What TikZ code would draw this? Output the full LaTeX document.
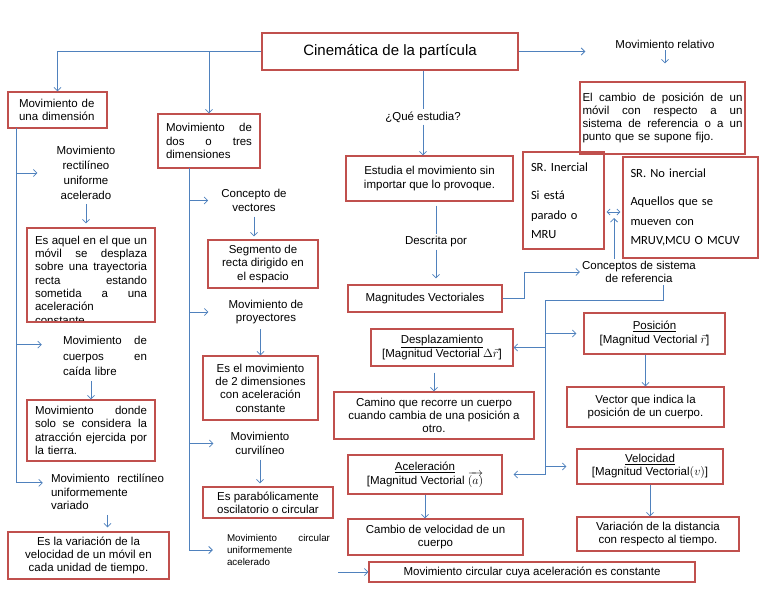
\documentclass[tikz,border=0pt]{standalone}
\usepackage{fontspec}
\setmainfont{Liberation Sans}
\newfontfamily\calibri{Carlito}
\usetikzlibrary{arrows.meta}
\definecolor{rojo}{RGB}{192,80,77}
\definecolor{azul}{RGB}{79,129,189}
\newcommand{\linj}[2]{\leavevmode\hbox to #1{#2}}

\begin{document}
\begin{tikzpicture}[x=1pt,y=-1pt,
    caja/.style={draw=rojo, line width=1.2pt, inner sep=2pt, font=\fontsize{11.5}{13.3}\selectfont},
    texto/.style={inner sep=2pt, font=\fontsize{11.5}{13.3}\selectfont},
    linea/.style={draw=azul, line width=0.8pt},
    flecha/.style={linea, -{Straight Barb[length=3.5pt,width=7pt]}},
    doble/.style={linea, {Straight Barb[length=3pt,width=6pt]}-{Straight Barb[length=3pt,width=6pt]}},
    srfont/.style={font=\calibri\fontsize{12.5}{19.5}\selectfont}]
    \useasboundingbox (0,0) rectangle (768,594);

    \node[caja, minimum width=256pt, minimum height=37pt, font=\fontsize{15}{18}\selectfont] (tit) at (390,51.5) {Cinemática de la partícula};
    \node[texto] (rel) at (665,44) {Movimiento relativo};
    \node[caja, minimum width=165pt, minimum height=72pt, text width=160pt, align=left] (relbox) at (662.5,118)
        {\linj{160pt}{El\hfill cambio\hfill de\hfill posición\hfill de\hfill un}\\\linj{160pt}{móvil\hfill con\hfill respecto\hfill a\hfill un}\\\linj{160pt}{sistema\hfill de\hfill referencia\hfill o\hfill a\hfill un}\\punto que se supone fijo.};

    % una dimension
    \node[caja, minimum width=99pt, minimum height=36pt, text width=77pt, align=left] (unadim) at (57.5,110) {Movimiento de\\una dimensión};
    \node[texto, align=center, font=\fontsize{11.5}{15}\selectfont] (mrua) at (86,173) {Movimiento\\rectilíneo\\uniforme\\acelerado};
    \begin{scope}
        \clip (27,228) rectangle (155,322);
        \node[texto, text width=112pt, align=left] (esaqtx) at (91,280)
            {\linj{112pt}{Es\hfill aquel\hfill en\hfill el\hfill que\hfill un}\\\linj{112pt}{móvil\hfill se\hfill desplaza}\\\linj{112pt}{sobre\hfill una\hfill trayectoria}\\\linj{112pt}{recta\hfill estando}\\\linj{112pt}{sometida\hfill a\hfill una}\\aceleración\\constante};
    \end{scope}
    \node[caja, minimum width=128pt, minimum height=94pt] (esaquel) at (91,275) {};
    \node[texto, text width=84pt, align=left, font=\fontsize{11.5}{15.5}\selectfont] (caida) at (105,356) {\linj{84pt}{Movimiento\hfill de}\\\linj{84pt}{cuerpos\hfill en}\\caída libre};
    \node[caja, minimum width=128pt, minimum height=61pt, text width=112pt, align=left] (donde) at (91,430.5)
        {\linj{112pt}{Movimiento\hfill donde}\\\linj{112pt}{solo\hfill se\hfill considera\hfill la}\\\linj{112pt}{atracción\hfill ejercida\hfill por}\\la tierra.};
    \node[texto, text width=113pt, align=left] (mruv) at (107.5,492) {\linj{113pt}{Movimiento\hfill rectilíneo}\\uniformemente\\variado};
    \node[caja, minimum width=161pt, minimum height=47pt, align=center] (variac) at (88.5,555.5) {Es la variación de la\\velocidad de un móvil en\\cada unidad de tiempo.};

    % dos o tres dimensiones
    \node[caja, minimum width=102pt, minimum height=54pt, text width=86pt, align=left] (dosdim) at (209,141) {\linj{86pt}{Movimiento\hfill de}\\\linj{86pt}{dos\hfill o\hfill tres}\\dimensiones};
    \node[texto, align=center] (vect) at (254,200.5) {Concepto de\\vectores};
    \node[caja, minimum width=110pt, minimum height=48pt, align=center] (segm) at (263,264) {Segmento de\\recta dirigido en\\el espacio};
    \node[texto, align=center] (proy) at (266,312) {Movimiento de\\proyectores};
    \node[caja, minimum width=115pt, minimum height=64pt, align=center] (esmov) at (260.5,388) {Es el movimiento\\de 2 dimensiones\\con aceleración\\constante};
    \node[texto, align=center] (curv) at (260,443.5) {Movimiento\\curvilíneo};
    \node[caja, minimum width=130pt, minimum height=31pt, align=center] (parab) at (268,502.5) {Es parabólicamente\\oscilatorio o circular};
    \node[texto, text width=103pt, align=left, font=\fontsize{9.8}{12}\selectfont] (mcua) at (278.5,550) {\linj{103pt}{Movimiento\hfill circular}\\uniformemente\\acelerado};

    % centro
    \node[texto] (que) at (423,117) {¿Qué estudia?};
    \node[caja, minimum width=167pt, minimum height=45pt, align=center] (estudia) at (429.5,178.5) {Estudia el movimiento sin\\importar que lo provoque.};
    \node[texto] (descr) at (436,242) {Descrita por};
    \node[caja, minimum width=154pt, minimum height=27pt] (magn) at (425,298.5) {Magnitudes Vectoriales};
    \node[caja, minimum width=142pt, minimum height=37pt, align=center] (despl) at (442,347.5) {\underline{Desplazamiento}\\{[}Magnitud Vectorial $\Delta\vec{r}$]};
    \node[caja, minimum width=200pt, minimum height=47pt, align=center] (camino) at (434,415.5) {Camino que recorre un cuerpo\\cuando cambia de una posición a\\otro.};
    \node[caja, minimum width=154pt, minimum height=39pt, align=center] (acel) at (425,474.5) {\underline{Aceleración}\\{[}Magnitud Vectorial \smash{$\overrightarrow{(a)}$}};
    \node[caja, minimum width=175pt, minimum height=36pt, align=center] (cambio) at (435.5,537) {Cambio de velocidad de un\\cuerpo};
    \node[caja, minimum width=326pt, minimum height=20pt] (mcc) at (532,572) {Movimiento circular cuya aceleración es constante};

    % derecha
    \node[caja, srfont, minimum width=81pt, minimum height=97pt, text width=65pt, align=left] (srin) at (563.5,200.5) {SR. Inercial\\[9pt]Si está\\parado o\\MRU};
    \node[caja, srfont, minimum width=135pt, minimum height=101pt, text width=120pt, align=left] (srno) at (690.5,207.5) {SR. No inercial\\[9pt]Aquellos que se\\mueven con\\MRUV,MCU O MCUV};
    \node[texto, align=center] (concep) at (639,272) {Conceptos de sistema\\de referencia};
    \node[caja, minimum width=141pt, minimum height=41pt, align=center] (pos) at (654.5,333.5) {\underline{Posición}\\{[}Magnitud Vectorial $\vec{r}$]};
    \node[caja, minimum width=157pt, minimum height=40pt, align=center] (vecpos) at (645.5,407) {Vector que indica la\\posición de un cuerpo.};
    \node[caja, minimum width=146pt, minimum height=35pt, align=center] (vel) at (650,466.5) {\underline{Velocidad}\\{[}Magnitud Vectorial$(v)$]};
    \node[caja, minimum width=162pt, minimum height=34pt, align=center] (vardist) at (658,534) {Variación de la distancia\\con respecto al tiempo.};

    \coordinate (lt) at (16,128);
    \coordinate (mt) at (189,168);
    \coordinate (ct) at (663,300);
    \coordinate (cr) at (545,300);
    \coordinate (dbl) at (614,212);

    % conectores
    \draw[flecha] (tit.west) -| (unadim.north);
    \draw[flecha] (dosdim.north |- tit.west) -- (dosdim.north);
    \draw[flecha, shorten >=28pt] (tit.east) -- (tit.east -| rel.west);
    \draw[flecha, shorten >=18pt] (rel.south) -- (rel.south |- relbox.north);
    \draw[linea] (tit.south -| que) -- (que.north);
    \draw[flecha] (que.south) -- (que.south |- estudia.north);
    \draw[linea, shorten <=4pt] (descr.north |- estudia.south) -- (descr.north);
    \draw[flecha, shorten >=6pt] (descr.south) -- (descr.south |- magn.north);
    \draw[flecha] (magn.east) -- ++(22,0) |- (concep.west);
    \draw[doble, shorten <=2pt, shorten >=2pt] (srin.east |- dbl) -- (srno.west |- dbl);
    \draw[flecha, shorten >=6pt] (concep.north -| dbl) -- (dbl);
    \draw[linea] (concep.south -| ct) -- (ct) -- (cr) -- (cr |- acel.east);
    \draw[flecha, shorten >=7pt] (cr |- pos.west) -- (pos.west);
    \draw[flecha] (cr |- despl.east) -- (despl.east);
    \draw[flecha, shorten >=10pt] (cr |- vel.west) -- (vel.west);
    \draw[flecha, shorten >=11pt] (cr |- acel.east) -- (acel.east);
    \draw[flecha, shorten <=6pt] (camino.north |- despl.south) -- (camino.north);
    \draw[flecha] (vecpos.north |- pos.south) -- (vecpos.north);
    \draw[flecha] (vel.south) -- (vel.south |- vardist.north);
    \draw[flecha] (acel.south) -- (acel.south |- cambio.north);
    \draw[flecha, shorten <=6pt] (mcc.west -| mcua.east) -- (mcc.west);

    \draw[linea] (lt) -- (lt |- mruv.base west);
    \draw[flecha, shorten >=17pt] (lt |- mrua) -- (mrua.west);
    \draw[flecha, shorten >=19pt] (lt |- caida.base west) -- (caida.base west);
    \draw[flecha, shorten >=6pt] (lt |- mruv.base west) -- (mruv.base west);
    \draw[flecha, shorten <=2pt, shorten >=4pt] (mrua.south) -- (mrua.south |- esaquel.north);
    \draw[flecha, shorten <=3pt] (donde.north |- caida.south) -- (donde.north);
    \draw[flecha, shorten <=3pt, shorten >=4pt] (mruv.south) -- (mruv.south |- variac.north);

    \draw[linea] (mt) -- (mt |- mcua);
    \draw[flecha, shorten >=11pt] (mt |- vect) -- (vect.west);
    \draw[flecha, shorten >=18pt] (mt |- proy) -- (proy.west);
    \draw[flecha, shorten >=15pt] (mt |- curv) -- (curv.west);
    \draw[flecha, shorten >=12pt] (mt |- mcua) -- (mcua.west);
    \draw[flecha, shorten <=3pt, shorten >=3pt] (vect.south) -- (vect.south |- segm.north);
    \draw[flecha, shorten <=3pt] (esmov.north |- proy.south) -- (esmov.north);
    \draw[flecha, shorten <=3pt, shorten >=3pt] (curv.south) -- (curv.south |- parab.north);
\end{tikzpicture}
\end{document}
